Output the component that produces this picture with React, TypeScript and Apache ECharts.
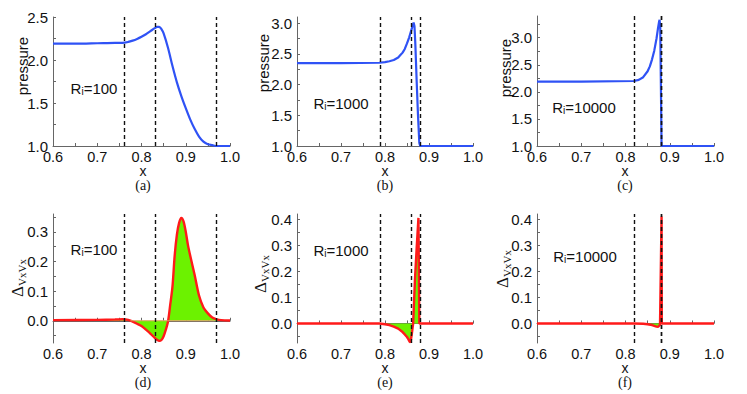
import React, { useEffect, useRef } from "react";
import * as echarts from "echarts";

// ---------- axes ----------
const xLabels = [0.6, 0.7, 0.8, 0.9, 1.0];
const xTicks = [0.6, 0.65, 0.7, 0.75, 0.8, 0.85, 0.9, 0.95, 1.0];

const yLabelsA = [1.0, 1.5, 2.0, 2.5];
const yTicksA = [1.0, 1.25, 1.5, 1.75, 2.0, 2.25, 2.5];
const yLabelsB = [1.0, 1.5, 2.0, 2.5, 3.0];
const yTicksB = [1.0, 1.25, 1.5, 1.75, 2.0, 2.25, 2.5, 2.75, 3.0];
const yLabelsC = [1.0, 1.5, 2.0, 2.5, 3.0];
const yTicksC = [1.0, 1.25, 1.5, 1.75, 2.0, 2.25, 2.5, 2.75, 3.0, 3.25];
const yLabelsD = [0.0, 0.1, 0.2, 0.3];
const yTicksD = [-0.05, 0.0, 0.05, 0.1, 0.15, 0.2, 0.25, 0.3, 0.35];
const yLabelsE = [0.0, 0.1, 0.2, 0.3, 0.4];
const yTicksE = [-0.05, 0.0, 0.05, 0.1, 0.15, 0.2, 0.25, 0.3, 0.35, 0.4];

// ---------- (a) Ri=100 pressure ----------
const xA = [0.6, 0.65, 0.7, 0.74, 0.757, 0.77, 0.78, 0.79, 0.8, 0.81, 0.82, 0.83, 0.835, 0.84, 0.845, 0.85, 0.86, 0.87, 0.88, 0.89, 0.9, 0.91, 0.92, 0.93, 0.94, 0.95, 0.96, 0.97, 0.98, 1.0];
const pA = [2.19, 2.19, 2.195, 2.2, 2.2, 2.21, 2.225, 2.245, 2.27, 2.3, 2.335, 2.37, 2.385, 2.385, 2.36, 2.31, 2.14, 1.93, 1.74, 1.58, 1.44, 1.31, 1.2, 1.11, 1.05, 1.02, 1.01, 1.0, 1.0, 1.0];
// ---------- (b) Ri=1000 pressure ----------
const xB = [0.6, 0.7, 0.787, 0.8, 0.81, 0.82, 0.83, 0.835, 0.84, 0.845, 0.85, 0.855, 0.86, 0.865, 0.867, 0.869, 0.872, 0.875, 0.878, 0.88, 0.9, 1.0];
const pB = [2.35, 2.35, 2.355, 2.365, 2.38, 2.4, 2.44, 2.48, 2.52, 2.58, 2.67, 2.77, 2.89, 3.01, 2.95, 2.65, 2.05, 1.5, 1.05, 1.0, 1.0, 1.0];
// ---------- (c) Ri=10000 pressure ----------
const xC = [0.6, 0.7, 0.819, 0.83, 0.84, 0.85, 0.855, 0.86, 0.865, 0.87, 0.873, 0.876, 0.877, 0.8785, 0.8815, 0.9, 1.0];
const pC = [2.19, 2.19, 2.2, 2.22, 2.27, 2.38, 2.47, 2.6, 2.76, 2.98, 3.15, 3.3, 3.33, 3.2, 1.0, 1.0, 1.0];
// ---------- (d) Ri=100 delta ----------
const xD = [0.6, 0.7, 0.74, 0.757, 0.77, 0.78, 0.79, 0.8, 0.81, 0.82, 0.83, 0.835, 0.84, 0.845, 0.85, 0.855, 0.86, 0.865, 0.87, 0.875, 0.88, 0.885, 0.89, 0.895, 0.9, 0.905, 0.91, 0.92, 0.93, 0.94, 0.95, 0.96, 0.97, 0.98, 1.0];
const dD = [0.002, 0.003, 0.004, 0.005, 0.003, -0.003, -0.01, -0.018, -0.03, -0.043, -0.058, -0.064, -0.068, -0.065, -0.052, -0.03, -0.002, 0.055, 0.115, 0.22, 0.29, 0.33, 0.347, 0.335, 0.3, 0.255, 0.22, 0.155, 0.085, 0.045, 0.025, 0.011, 0.005, 0.002, 0.001];
const baseD = [0.775, 0.965];
// ---------- (e) Ri=1000 delta ----------
const xE = [0.6, 0.7, 0.787, 0.8, 0.81, 0.82, 0.83, 0.84, 0.845, 0.85, 0.853, 0.856, 0.858, 0.861, 0.864, 0.868, 0.872, 0.876, 0.878, 0.88, 0.9, 1.0];
const dE = [0, 0, 0, -0.003, -0.006, -0.012, -0.02, -0.033, -0.042, -0.052, -0.06, -0.07, -0.072, -0.04, 0.0, 0.166, 0.29, 0.405, 0.0, 0, 0, 0];
// ---------- (f) Ri=10000 delta ----------
const xF = [0.6, 0.7, 0.819, 0.84, 0.85, 0.86, 0.865, 0.87, 0.874, 0.878, 0.8815, 0.882, 0.9, 1.0];
const dF = [0, 0, 0, -0.001, -0.003, -0.006, -0.009, -0.012, -0.013, -0.005, 0.41, 0.0, 0, 0];

// dashed vertical markers
const dashA = [0.757, 0.834, 0.974];
const dashB = [0.787, 0.864, 0.883];
const dashC = [0.819, 0.877, 0.883];

const riLabels = ["100", "1000", "10000"];
const panelLetters = ["(a)", "(b)", "(c)", "(d)", "(e)", "(f)"];

const zip = (xs: number[], ys: number[]) => xs.map((x, i) => [x, ys[i]]);

const SANS = "'Liberation Sans', Arial, sans-serif";
const SERIF = "'Liberation Serif', 'Times New Roman', serif";
const BLUE = "#2f52f5";
const RED = "#ff1a1a";
const GREEN = "#6cf200";

export default function App() {
  const ref = useRef<HTMLDivElement>(null);
  useEffect(() => {
    if (!ref.current) return;
    const chart = echarts.init(ref.current, undefined, { renderer: "svg" });

    const grids = [
      { left: 53, top: 17, width: 177, height: 129 },
      { left: 297, top: 17, width: 176, height: 129 },
      { left: 537, top: 16, width: 177, height: 130 },
      { left: 53, top: 214, width: 177, height: 129 },
      { left: 297, top: 214, width: 176, height: 129 },
      { left: 537, top: 214, width: 177, height: 129 },
    ];
    const yCfg = [
      { min: 1.0, max: 2.5, labels: yLabelsA, ticks: yTicksA },
      { min: 1.0, max: 3.1, labels: yLabelsB, ticks: yTicksB },
      { min: 1.0, max: 3.4, labels: yLabelsC, ticks: yTicksC },
      { min: -0.075, max: 0.36, labels: yLabelsD, ticks: yTicksD },
      { min: -0.075, max: 0.42, labels: yLabelsE, ticks: yTicksE },
      { min: -0.075, max: 0.42, labels: yLabelsE, ticks: yTicksE },
    ];
    const axisLine = { lineStyle: { color: "#666", width: 1 } };
    const xAxis = grids.map((_, i) => ({
      type: "value",
      gridIndex: i,
      min: 0.6,
      max: 1.0,
      axisLine,
      splitLine: { show: false },
      axisTick: { inside: true, length: 3, customValues: xTicks, lineStyle: { color: "#666" } },
      axisLabel: {
        customValues: xLabels,
        formatter: (v: number) => v.toFixed(1),
        color: "#111",
        fontFamily: SANS,
        fontSize: 14.5,
        margin: 3,
      },
    }));
    const yAxis = yCfg.map((c, i) => ({
      type: "value",
      gridIndex: i,
      min: c.min,
      max: c.max,
      axisLine: { show: true, ...axisLine },
      splitLine: { show: false },
      axisTick: { inside: true, length: 3, customValues: c.ticks, lineStyle: { color: "#666" } },
      axisLabel: {
        customValues: c.labels,
        formatter: (v: number) => v.toFixed(1),
        color: "#111",
        fontFamily: SANS,
        fontSize: 15,
        margin: 5,
      },
    }));

    const dashMark = (vals: number[]) => ({
      silent: true,
      symbol: ["none", "none"],
      label: { show: false },
      lineStyle: { type: [4, 3], color: "#111", width: 1.4 },
      data: vals.map((v) => ({ xAxis: v })),
    });

    const pressure = (i: number, xs: number[], ys: number[], dash: number[], smooth: number) => ({
      type: "line",
      xAxisIndex: i,
      yAxisIndex: i,
      data: zip(xs, ys),
      showSymbol: false,
      smooth,
      lineStyle: { color: BLUE, width: 2.2 },
      markLine: dashMark(dash),
    });
    const delta = (i: number, xs: number[], ys: number[], dash: number[], smooth: number) => ({
      type: "line",
      xAxisIndex: i,
      yAxisIndex: i,
      data: zip(xs, ys),
      showSymbol: false,
      smooth,
      z: 3,
      lineStyle: { color: RED, width: 2.4 },
      areaStyle: { color: GREEN, opacity: 1, origin: 0 },
      markLine: dashMark(dash),
    });

    const series: any[] = [
      pressure(0, xA, pA, dashA, 0.3),
      pressure(1, xB, pB, dashB, 0),
      pressure(2, xC, pC, dashC, 0),
      {
        type: "line",
        xAxisIndex: 3,
        yAxisIndex: 3,
        data: baseD.map((x) => [x, 0]),
        showSymbol: false,
        z: 4,
        lineStyle: { color: "#e0a060", width: 1 },
      },
      delta(3, xD, dD, dashA, 0.3),
      delta(4, xE, dE, dashB, 0),
      delta(5, xF, dF, dashC, 0),
    ];

    const txt = (x: number, y: number, text: string, extra: any = {}) => ({
      type: "text",
      x,
      y,
      silent: true,
      rotation: extra.rotation || 0,
      style: {
        text,
        align: "center",
        verticalAlign: "middle",
        fill: "#111",
        fontFamily: SANS,
        fontSize: 14,
        ...extra.style,
      },
    });

    const xNamePos = [[143, 171], [385, 171], [625, 171], [143, 368], [385, 368], [625, 368]];
    const letterPos = [[143, 185.5], [385, 185.5], [625, 185.5], [143, 382.5], [385, 382.5], [625, 382.5]];
    const presPos = [[22, 66], [263, 63], [505, 68]];
    const deltaPos = [[17, 278], [260, 274], [502, 269]];
    const riPos = [[94, 88], [341, 103], [584, 107], [94, 249], [341, 250], [585, 256]];

    const riRich = {
      r: { fontSize: 15, fontFamily: SANS, fill: "#111", lineHeight: 16, verticalAlign: "bottom" },
      s: { fontSize: 10, fontFamily: SANS, fill: "#111", lineHeight: 16, verticalAlign: "bottom" },
    };
    const dRich = {
      d: { fontSize: 17, fontFamily: SERIF, fill: "#111", lineHeight: 20, verticalAlign: "middle" },
      s: { fontSize: 11, fontFamily: SERIF, fill: "#111", lineHeight: 20, verticalAlign: "bottom" },
    };

    const graphic: any[] = [];
    for (let i = 0; i < 6; i++) {
      graphic.push(txt(xNamePos[i][0], xNamePos[i][1], "x", { style: { fontSize: 14 } }));
      graphic.push(
        txt(letterPos[i][0], letterPos[i][1], panelLetters[i], {
          style: { fontFamily: SERIF, fontSize: 14 },
        })
      );
      graphic.push(
        txt(riPos[i][0], riPos[i][1], `{r|R}{s|i}{r|=${riLabels[i % 3]}}`, { style: { rich: riRich } })
      );
    }
    for (let i = 0; i < 3; i++) {
      graphic.push(
        txt(presPos[i][0], presPos[i][1], "pressure", { rotation: Math.PI / 2, style: { fontSize: 15 } })
      );
      graphic.push(
        txt(deltaPos[i][0], deltaPos[i][1], "{d|Δ}{s|VxVx}", { rotation: Math.PI / 2, style: { rich: dRich } })
      );
    }

    chart.setOption({
      animation: false,
      backgroundColor: "#fff",
      grid: grids,
      xAxis,
      yAxis,
      series,
      graphic,
    });
    return () => chart.dispose();
  }, []);

  return (
    <div
      ref={ref}
      style={{ position: "fixed", left: 0, top: 0, width: 747, height: 394, background: "#fff" }}
    />
  );
}
